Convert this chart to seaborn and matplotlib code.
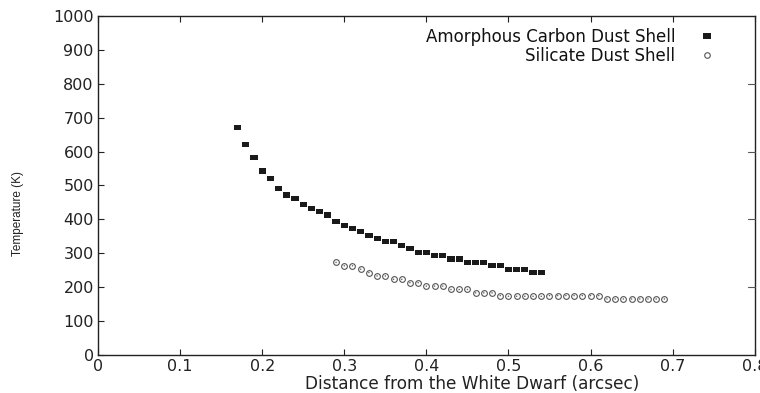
import matplotlib
matplotlib.use("Agg")
import matplotlib.pyplot as plt
import seaborn as sns
import pandas as pd
from matplotlib.lines import Line2D

sns.set_theme(style="white")
plt.rcParams['font.family'] = ['DejaVu Sans']

carbon_x = [0.17, 0.18, 0.19, 0.20, 0.21, 0.22, 0.23, 0.24, 0.25, 0.26, 0.27, 0.28, 0.29,
            0.30, 0.31, 0.32, 0.33, 0.34, 0.35, 0.36, 0.37, 0.38, 0.39, 0.40, 0.41, 0.42,
            0.43, 0.44, 0.45, 0.46, 0.47, 0.48, 0.49, 0.50, 0.51, 0.52, 0.53, 0.54]
carbon_t = [670, 620, 583, 543, 520, 492, 472, 462, 443, 433, 423, 413, 393,
            383, 373, 363, 353, 343, 335, 335, 323, 313, 303, 303, 293, 293,
            283, 283, 273, 273, 273, 263, 263, 253, 253, 253, 243, 243]

silicate_x = [0.29, 0.30, 0.31, 0.32, 0.33, 0.34, 0.35, 0.36, 0.37, 0.38, 0.39, 0.40,
              0.41, 0.42, 0.43, 0.44, 0.45, 0.46, 0.47, 0.48, 0.49, 0.50, 0.51, 0.52,
              0.53, 0.54, 0.55, 0.56, 0.57, 0.58, 0.59, 0.60, 0.61, 0.62, 0.63, 0.64,
              0.65, 0.66, 0.67, 0.68, 0.69]
silicate_t = [273, 263, 263, 253, 243, 233, 233, 223, 223, 213, 213, 203,
              203, 203, 193, 193, 193, 183, 183, 183, 175, 173, 173, 173,
              173, 173, 175, 175, 175, 175, 175, 175, 175, 165, 165, 165,
              165, 165, 165, 165, 165]

series_names = ["Amorphous Carbon Dust Shell", "Silicate Dust Shell"]
x_ticks = [0, 0.1, 0.2, 0.3, 0.4, 0.5, 0.6, 0.7, 0.8]
x_tick_labels = ["0", "0.1", "0.2", "0.3", "0.4", "0.5", "0.6", "0.7", "0.8"]
y_ticks = [0, 100, 200, 300, 400, 500, 600, 700, 800, 900, 1000]

df_c = pd.DataFrame({"x": carbon_x, "t": carbon_t})
df_s = pd.DataFrame({"x": silicate_x, "t": silicate_t})

fig = plt.figure(figsize=(7.6, 3.93), dpi=100)
ax = fig.add_axes([0.129, 0.097, 0.864, 0.862])

rect = [(-1.4, -1), (1.4, -1), (1.4, 1), (-1.4, 1), (-1.4, -1)]
sns.scatterplot(data=df_c, x="x", y="t", ax=ax, marker=rect, s=27,
                color="#1a1a1a", edgecolor="none", linewidth=0, legend=False, zorder=3)
sns.scatterplot(data=df_s, x="x", y="t", ax=ax, marker="o", s=17,
                facecolor="white", edgecolor="#555555", linewidth=0.8, legend=False, zorder=3)
sns.scatterplot(data=df_s, x="x", y="t", ax=ax, marker="o", s=1.2,
                color="#666666", edgecolor="none", legend=False, zorder=4)

ax.set_xlim(0, 0.8)
ax.set_ylim(0, 1000)
ax.set_xticks(x_ticks)
ax.set_xticklabels(x_tick_labels)
ax.set_yticks(y_ticks)
ax.tick_params(axis="both", direction="in", length=4, width=0.8, labelsize=11.5,
               colors="#222222", pad=3)
ax.tick_params(axis="x", top=True, bottom=True, pad=3)
ax.tick_params(axis="y", left=True, right=False, pad=3)
for v in [200, 400, 600, 800]:
    ax.plot([0.8 - 0.008, 0.8], [v, v], color="#555555", lw=0.8, clip_on=False, zorder=5)

for sp in ax.spines.values():
    sp.set_color("#222222")
    sp.set_linewidth(1.0)

ax.set_xlabel("Distance from the White Dwarf (arcsec)", fontsize=12.2, color="#222222")
ax.xaxis.set_label_coords(0.569, -0.059, transform=ax.transAxes)
ax.xaxis.label.set_va("top")
ax.set_ylabel("Temperature (K)", fontsize=8.5, color="#222222",
              family=["Liberation Sans", "DejaVu Sans"])
ax.yaxis.set_label_coords(-0.113, 0.416)
ax.grid(False)

h1 = Line2D([], [], linestyle="none", marker=rect, markersize=5.5, color="#1a1a1a", markeredgewidth=0)
h2 = Line2D([], [], linestyle="none", marker="o", markersize=4, markerfacecolor="white",
            markeredgecolor="#555555", markeredgewidth=0.8)
leg = ax.legend([h1, h2], series_names, loc="upper right", frameon=False, markerfirst=False,
                fontsize=12, handletextpad=1.4, handlelength=1.0, borderaxespad=0.0,
                labelspacing=0.05, bbox_to_anchor=(0.95, 0.985))
for t in leg.get_texts():
    t.set_ha("right")
    t.set_color("#111111")

fig.savefig("out.png", dpi=100)
